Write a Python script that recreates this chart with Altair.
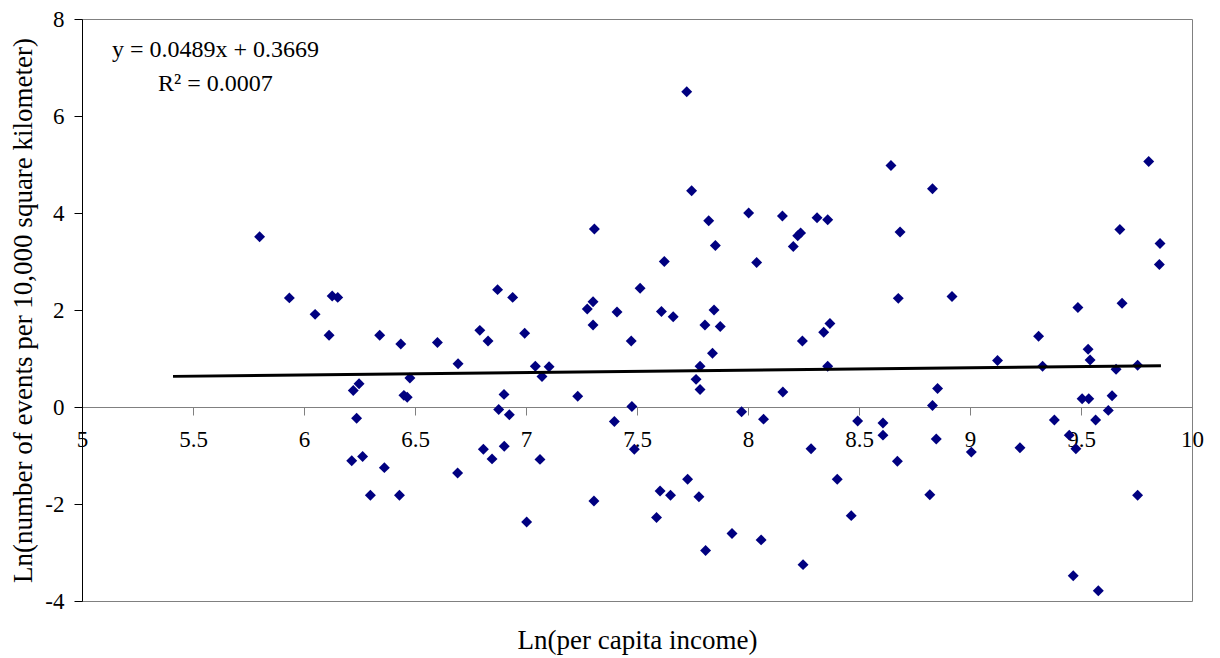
import altair as alt
import pandas as pd

# ---- data ----
income = [5.80, 5.934, 6.05, 6.127, 6.152, 6.113, 6.341, 6.436, 6.601, 6.792,
          6.829, 6.694, 6.872, 6.477, 6.248, 6.222, 6.45, 6.465, 6.237, 6.877,
          6.215, 6.264, 6.362, 6.299, 6.43, 6.692, 6.808, 6.847, 6.902, 6.925,
          7.063, 7.003, 7.306, 7.398, 7.477, 7.488, 7.728, 7.604, 7.651, 7.779,
          7.588, 7.809, 7.928, 8.059, 7.971, 8.07, 6.94, 6.994, 7.042, 7.104,
          7.072, 6.901, 7.233, 7.308, 7.276, 7.302, 7.302, 7.41, 7.514, 7.474,
          7.746, 7.623, 7.61, 7.663, 7.823, 7.853, 8.003, 8.039, 7.847, 7.806,
          7.875, 7.84, 7.784, 7.766, 7.784, 7.724, 8.644, 8.155, 8.311, 8.359,
          8.224, 8.237, 8.204, 8.831, 8.685, 8.677, 8.919, 8.369, 8.341, 8.245,
          8.359, 9.124, 8.157, 8.854, 8.831, 8.494, 8.608, 8.608, 8.848, 8.284,
          8.673, 9.006, 8.402, 8.819, 8.465, 8.248, 9.309, 9.327, 9.486, 9.532,
          9.541, 9.658, 9.755, 9.675, 9.685, 9.805, 9.856, 9.853, 9.505, 9.535,
          9.64, 9.623, 9.38, 9.566, 9.447, 9.477, 9.225, 9.755, 9.465, 9.578]

events = [3.51, 2.25, 1.91, 2.29, 2.26, 1.48, 1.48, 1.30, 1.33, 1.58,
          1.36, 0.89, 2.42, 0.60, 0.48, 0.34, 0.24, 0.20, -0.23, -0.05,
          -1.11, -1.02, -1.25, -1.82, -1.82, -1.36, -0.87, -1.07, -0.81, -0.16,
          -1.08, -2.37, -1.94, -0.30, 0.01, -0.87, -1.49, -1.73, -1.82, -1.85,
          -2.28, -2.96, -2.61, -2.74, -0.10, -0.25, 2.26, 1.52, 0.84, 0.83,
          0.63, 0.26, 0.22, 3.67, 2.02, 2.17, 1.69, 1.96, 2.45, 1.36,
          4.46, 3.00, 1.97, 1.86, 3.84, 3.33, 4.00, 2.98, 2.00, 1.69,
          1.66, 1.11, 0.84, 0.57, 0.36, 6.50, 4.98, 3.94, 3.90, 3.86,
          3.53, 3.59, 3.31, 4.50, 3.61, 2.24, 2.28, 1.72, 1.54, 1.36,
          0.84, 0.96, 0.31, 0.38, 0.03, -0.29, -0.33, -0.58, -0.66, -0.86,
          -1.12, -0.93, -1.49, -1.81, -2.24, -3.25, 1.46, 0.84, 2.05, 1.19,
          0.97, 0.78, 0.86, 3.66, 2.14, 5.06, 3.37, 2.94, 0.17, 0.17,
          0.23, -0.07, -0.27, -0.27, -0.58, -0.86, -0.84, -1.82, -3.48, -3.79]

slope = 0.0489
intercept = 0.3669
r_squared = "0.0007"
trend_x = [5.41, 9.86]

x_ticks = [5, 5.5, 6, 6.5, 7, 7.5, 8, 8.5, 9, 9.5, 10]
y_ticks = [-4, -2, 0, 2, 4, 6, 8]

# ---- build tables ----
points = pd.DataFrame({"x": income, "y": events})
trend = pd.DataFrame({"x": trend_x, "y": [slope * v + intercept for v in trend_x]})

W, H = 1110, 582
XMIN, XMAX = 5, 10
YMIN, YMAX = -4, 8
FONT = "Liberation Serif"

xscale = alt.Scale(domain=[XMIN, XMAX], nice=False, zero=False)
yscale = alt.Scale(domain=[YMIN, YMAX], nice=False, zero=False)

x_axis = alt.Axis(
    values=x_ticks, labelExpr="datum.value + ''",
    offset=-H * (0 - YMIN) / (YMAX - YMIN),
    grid=False, domainColor="#808080", tickColor="#808080", tickSize=8,
    labelFont=FONT, labelFontSize=23, labelColor="black", labelPadding=13,
    labelFlush=False, labelOverlap=False,
    title="Ln(per capita income)", titleY=220, titleFont=FONT, titleFontSize=27,
    titleFontWeight="normal", titleColor="black",
)
y_axis = alt.Axis(
    values=y_ticks, labelExpr="datum.value + ''",
    grid=False, domainColor="black", tickColor="black", tickSize=8,
    labelFont=FONT, labelFontSize=23, labelColor="black", labelPadding=10,
    title="Ln(number of events per 10,000 square kilometer)",
    titleFont=FONT, titleFontSize=27, titleFontWeight="normal",
    titleColor="black", titlePadding=7,
)

pts = alt.Chart(points).mark_point(
    shape="diamond", filled=True, size=120, color="#000080", opacity=1
).encode(
    x=alt.X("x:Q", scale=xscale, axis=x_axis),
    y=alt.Y("y:Q", scale=yscale, axis=y_axis),
)

line = alt.Chart(trend).mark_line(color="black", strokeWidth=3).encode(
    x=alt.X("x:Q", scale=xscale),
    y=alt.Y("y:Q", scale=yscale),
)

eq = alt.Chart(pd.DataFrame({"t": [f"y = {slope}x + {intercept}"]})).mark_text(
    font=FONT, fontSize=24, align="left", baseline="middle", color="black"
).encode(text="t:N", x=alt.value(30), y=alt.value(31))

r2 = alt.Chart(pd.DataFrame({"t": [f"R\u00b2 = {r_squared}"]})).mark_text(
    font=FONT, fontSize=24, align="left", baseline="middle", color="black"
).encode(text="t:N", x=alt.value(76), y=alt.value(65))

chart = alt.layer(pts, line, eq, r2).properties(
    width=W, height=H,
    autosize=alt.AutoSizeParams(type="none"),
    padding={"left": 74, "top": 11, "right": 20, "bottom": 57},
    background="white",
).configure_view(stroke="#808080", strokeWidth=1)

chart.save("out.html", embed_options={"renderer": "svg", "actions": False})
